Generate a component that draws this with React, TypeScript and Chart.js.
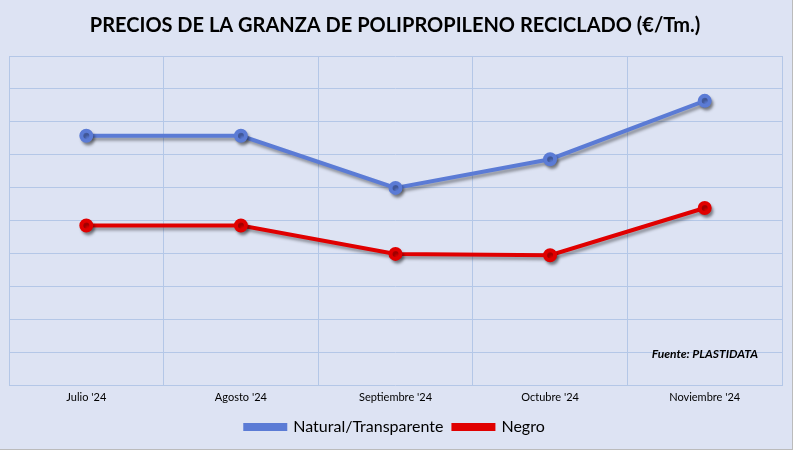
import React, { useEffect, useRef } from "react";
import { Chart, registerables } from "chart.js";
Chart.register(...registerables);

const categories = ["Julio '24", "Agosto '24", "Septiembre '24", "Octubre '24", "Noviembre '24"];
const natural = [7.58, 7.58, 6.0, 6.87, 8.64];
const negro = [4.86, 4.86, 4.0, 3.96, 5.39];

const shadowPlugin = {
  id: "shadow",
  beforeDatasetsDraw(chart: any) {
    const c = chart.ctx;
    c.save();
    c.shadowColor = "rgba(0,0,0,0.35)";
    c.shadowBlur = 3;
    c.shadowOffsetX = 2;
    c.shadowOffsetY = 3;
  },
  afterDatasetsDraw(chart: any) {
    chart.ctx.restore();
  },
  afterDraw(chart: any) {
    const c = chart.ctx;
    c.save();
    c.font = "italic bold 12px Lato, 'Open Sans', sans-serif";
    c.fillStyle = "#000";
    c.textAlign = "right";
    c.fillText("Fuente: PLASTIDATA", 758, 354);
    c.restore();
  },
};

export default function App() {
  const ref = useRef<HTMLCanvasElement>(null);
  useEffect(() => {
    document.body.style.margin = "0";
    const chart = new Chart(ref.current!, {
      type: "line",
      data: {
        labels: categories,
        datasets: [
          { label: "Natural/Transparente", data: natural, borderColor: "#5b7bd5", backgroundColor: "#5b7bd5", borderWidth: 4, pointRadius: 5, pointHoverRadius: 5 },
          { label: "Negro", data: negro, borderColor: "#e00000", backgroundColor: "#e00000", borderWidth: 4, pointRadius: 5, pointHoverRadius: 5 },
        ],
      },
      options: {
        animation: false,
        responsive: false,
        layout: { padding: { left: 8, right: 10, top: 0, bottom: 4 } },
        plugins: {
          title: {
            display: true,
            text: "PRECIOS DE LA GRANZA DE POLIPROPILENO RECICLADO (€/Tm.)",
            color: "#000",
            font: { size: 20, weight: "bold", family: "Lato, 'Open Sans', sans-serif" },
            padding: { top: 14, bottom: 18 },
          },
          legend: {
            position: "bottom",
            labels: {
              color: "#000",
              font: { size: 16, family: "Lato, 'Open Sans', sans-serif" },
              boxWidth: 40,
              boxHeight: 4,
              padding: 10,
            },
          },
          tooltip: { enabled: false },
        },
        scales: {
          x: {
            offset: true,
            grid: { color: "#b4c7e7", offset: true, drawTicks: false },
            border: { display: false },
            ticks: { color: "#000", font: { size: 11, family: "Lato, 'Open Sans', sans-serif" }, padding: 5 },
          },
          y: {
            min: 0,
            max: 10,
            ticks: { display: false, stepSize: 1 },
            grid: { color: "#b4c7e7", drawTicks: false },
            border: { display: false },
          },
        },
      },
      plugins: [shadowPlugin],
    });
    return () => chart.destroy();
  }, []);
  return (
    <div style={{ width: 793, height: 450, background: "#dde3f3", boxSizing: "border-box", borderBottom: "1px solid #bbb", borderRight: "1px solid #bbb" }}>
      <canvas ref={ref} width={792} height={449} />
    </div>
  );
}
